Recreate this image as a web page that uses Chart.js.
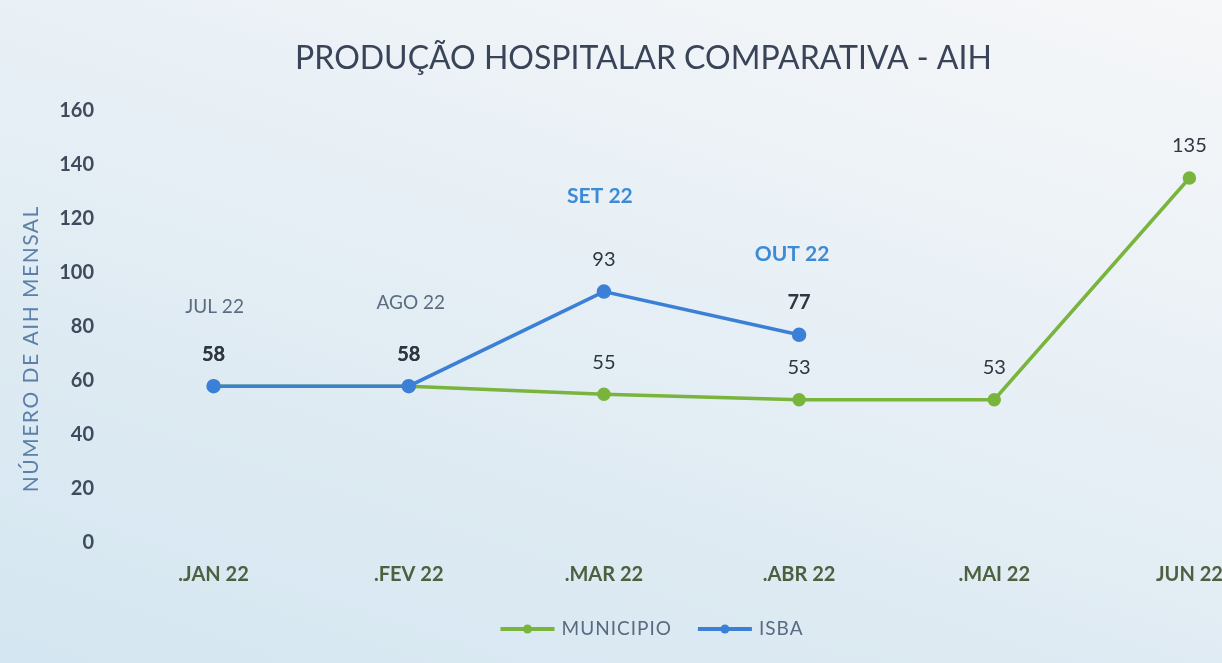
<!DOCTYPE html>
<html>
<head>
<meta charset="utf-8">
<script src="https://cdn.jsdelivr.net/npm/chart.js@4.4.0/dist/chart.umd.min.js"></script>
<style>
  html, body { margin: 0; padding: 0; width: 1222px; height: 663px; overflow: hidden; }
  body { background: linear-gradient(18deg, #d4e6f1 0%, #dfebf3 35%, #eaf1f6 65%, #f6f7f9 100%); }
  #wrap { position: absolute; left: 0; top: 0; width: 1300px; height: 663px; }
</style>
</head>
<body>
<div id="wrap"><canvas id="c"></canvas></div>
<script>
const categories = [".JAN 22", ".FEV 22", ".MAR 22", ".ABR 22", ".MAI 22", "JUN 22"];
const municipio = [58, 58, 55, 53, 53, 135];
const isba = [58, 58, 93, 77, null, null];
const isbaMonths = ["JUL 22", "AGO 22", "SET 22", "OUT 22"];
const yTicks = [0, 20, 40, 60, 80, 100, 120, 140, 160];
const yTitle = "NÚMERO DE AIH MENSAL";

const GREEN = '#79b43c';
const BLUE = '#3b80d6';

const overlay = {
  id: 'overlay',
  afterDatasetsDraw(chart) {
    const ctx = chart.ctx;
    ctx.save();
    ctx.textAlign = 'center';
    ctx.textBaseline = 'middle';
    // value labels
    chart.data.datasets.forEach((ds, di) => {
      const meta = chart.getDatasetMeta(di);
      meta.data.forEach((pt, i) => {
        const v = ds.data[i];
        if (v === null || v === undefined) return;
        const bold = (ds.label === 'ISBA' && i !== 2) || i <= 1;
        ctx.font = (bold ? 'bold ' : '') + '20px Lato';
        ctx.fillStyle = '#2e3642';
        ctx.fillText(String(v), pt.x, pt.y - 32);
      });
    });
    // ISBA month annotations
    const meta = chart.getDatasetMeta(1);
    const offs = [79, 83, 95, 81];
    const dxs = [1, 2, -4, -7];
    isbaMonths.forEach((m, i) => {
      const pt = meta.data[i];
      if (!pt) return;
      const strong = i >= 2;
      ctx.font = (strong ? 'bold 21px' : '19px') + ' Lato';
      ctx.fillStyle = strong ? '#3e8bd5' : '#5a6b82';
      ctx.fillText(m, pt.x + dxs[i], pt.y - offs[i]);
    });
    ctx.restore();
  },
  afterDraw(chart) {
    const ctx = chart.ctx;
    ctx.save();
    // y-axis title
    const ya = chart.scales.y;
    ctx.translate(31, (ya.top + ya.bottom) / 2 + 22);
    ctx.rotate(-Math.PI / 2);
    ctx.font = '21px Lato';
    ctx.letterSpacing = '1.5px';
    ctx.fillStyle = '#5b80aa';
    ctx.textAlign = 'center';
    ctx.textBaseline = 'middle';
    ctx.fillText(yTitle, 0, 0);
    ctx.restore();

    // legend (line + marker symbol)
    ctx.save();
    ctx.font = '19px Lato';
    ctx.letterSpacing = '1px';
    ctx.textBaseline = 'middle';
    ctx.textAlign = 'left';
    const symW = 54, gapText = 7, gapItem = 26;
    const items = chart.data.datasets.map(ds => ({ ds, w: ctx.measureText(ds.label).width }));
    const total = items.reduce((s, it) => s + symW + gapText + it.w, 0) + gapItem * (items.length - 1);
    let x = chart.width / 2 + 2 - total / 2;
    const y = 629;
    items.forEach(it => {
      const c = it.ds.borderColor;
      ctx.strokeStyle = c; ctx.lineWidth = 4;
      ctx.beginPath(); ctx.moveTo(x, y); ctx.lineTo(x + symW, y); ctx.stroke();
      ctx.fillStyle = c;
      ctx.beginPath(); ctx.arc(x + symW / 2, y, 4.5, 0, Math.PI * 2); ctx.fill();
      x += symW + gapText;
      ctx.fillStyle = '#5a6a80';
      ctx.fillText(it.ds.label, x, y);
      x += it.w + gapItem;
    });
    ctx.restore();
  }
};

new Chart(document.getElementById('c'), {
  type: 'line',
  data: {
    labels: categories,
    datasets: [
      { label: 'MUNICIPIO', data: municipio, borderColor: GREEN, backgroundColor: GREEN, order: 1,
        borderWidth: 3.5, pointRadius: 5, pointHoverRadius: 5, tension: 0 },
      { label: 'ISBA', data: isba, borderColor: BLUE, backgroundColor: BLUE, order: 0,
        borderWidth: 3.5, pointRadius: 5.5, pointHoverRadius: 5.5, tension: 0, spanGaps: false }
    ]
  },
  options: {
    responsive: true,
    maintainAspectRatio: false,
    animation: false,
    layout: { padding: { left: 0, right: 13, top: 0, bottom: 0 } },
    plugins: {
      title: {
        display: true,
        text: 'PRODUÇÃO HOSPITALAR COMPARATIVA - AIH',
        color: '#3a4458',
        font: { family: 'Lato', size: 32, weight: 'normal' },
        padding: { top: 39, bottom: 33 }
      },
      legend: { display: false },
      tooltip: { enabled: false }
    },
    scales: {
      x: {
        offset: true,
        grid: { display: false, drawTicks: false },
        border: { display: false },
        ticks: { color: '#4d6040', font: { family: 'Lato', size: 20, weight: 'bold' }, padding: 20, maxRotation: 0 },
        afterFit(axis) { axis.height = 120; }
      },
      y: {
        min: 0, max: 160,
        afterBuildTicks(axis) { axis.ticks = yTicks.map(v => ({ value: v })); },
        grid: { display: false, drawTicks: false },
        border: { display: false },
        ticks: { color: '#3f4b5c', font: { family: 'Lato', size: 20, weight: 'bold' }, padding: 22 },
        afterFit(axis) { axis.width = 116; }
      }
    }
  },
  plugins: [overlay]
});
</script>
</body>
</html>
